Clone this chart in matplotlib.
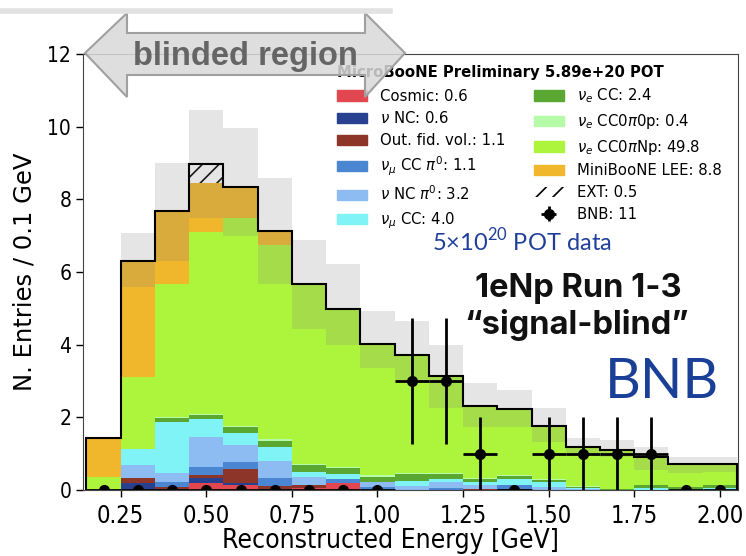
import numpy as np
import matplotlib.pyplot as plt
from matplotlib.patches import Polygon, Patch
from matplotlib.lines import Line2D

# reconstructed energy bin centres [GeV], bins are 0.1 GeV wide
energy = [0.2, 0.3, 0.4, 0.5, 0.6, 0.7, 0.8, 0.9, 1.0, 1.1,
          1.2, 1.3, 1.4, 1.5, 1.6, 1.7, 1.8, 1.9, 2.0]

# stacked MC prediction, bottom -> top
cosmic     = [0, 0, 0, 0.18, 0.15, 0, 0.05, 0.18, 0, 0, 0, 0, 0, 0, 0, 0, 0, 0, 0]
nu_nc      = [0, 0.18, 0.04, 0.16, 0.05, 0.04, 0, 0, 0, 0, 0, 0, 0.03, 0, 0, 0, 0, 0, 0]
oofv       = [0, 0.16, 0.03, 0.07, 0.39, 0.08, 0.10, 0, 0, 0, 0, 0.04, 0, 0, 0, 0, 0, 0, 0]
numu_ccpi0 = [0, 0, 0.14, 0.23, 0.17, 0.20, 0, 0.11, 0.09, 0, 0.05, 0, 0.12, 0, 0, 0, 0, 0, 0]
nu_ncpi0   = [0, 0.35, 0.25, 0.83, 0.48, 0.48, 0.21, 0, 0.14, 0.11, 0.18, 0.09, 0, 0.09, 0.03, 0, 0, 0, 0]
numu_cc    = [0, 0.43, 1.42, 0.49, 0.33, 0.38, 0.13, 0.14, 0, 0.15, 0.07, 0.09, 0.15, 0.12, 0.02, 0, 0.05, 0.03, 0.05]
nue_cc     = [0, 0, 0.09, 0.11, 0.17, 0.18, 0.19, 0.18, 0.14, 0.17, 0.13, 0.08, 0.09, 0.07, 0.03, 0.02, 0.09, 0.05, 0.10]
nue_0p     = [0, 0, 0.03, 0.03, 0.03, 0.03, 0.03, 0.03, 0.03, 0.03, 0.03, 0.03, 0.02, 0.02, 0.02, 0.01, 0.01, 0, 0]
nue_np     = [0.36, 1.98, 3.68, 5.01, 5.73, 5.35, 4.95, 4.35, 3.63, 3.26, 2.68, 1.97, 1.81, 1.46, 1.07, 1.07, 0.77, 0.63, 0.56]
lee        = [1.07, 3.20, 1.99, 1.35, 0.85, 0.39, 0, 0, 0, 0, 0, 0, 0, 0, 0, 0, 0, 0, 0]
ext        = [0, 0, 0, 0.51, 0, 0, 0, 0, 0, 0, 0, 0, 0, 0, 0, 0, 0, 0, 0]

# uncertainty band (lower / upper edge)
band_lo = [1.43, 5.60, 6.30, 7.50, 7.00, 5.66, 4.42, 3.98, 3.36, 3.00,
           2.25, 1.74, 1.74, 1.33, 0.95, 0.90, 0.55, 0.46, 0.50]
band_hi = [1.43, 7.06, 8.99, 10.45, 9.96, 8.58, 6.88, 6.22, 4.93, 4.65,
           4.00, 2.94, 2.75, 2.25, 1.44, 1.38, 1.19, 0.92, 0.92]

# BNB data (signal-blind: only high-energy sideband unblinded)
bnb = [0, 0, 0, 0, 0, 0, 0, 0, 0, 3, 3, 1, 0, 1, 1, 1, 1, 0, 0]

labels = ["Cosmic: 0.6", r"$\nu$ NC: 0.6", "Out. fid. vol.: 1.1",
          r"$\nu_\mu$ CC $\pi^0$: 1.1", r"$\nu$ NC $\pi^0$: 3.2", r"$\nu_\mu$ CC: 4.0",
          r"$\nu_e$ CC: 2.4", r"$\nu_e$ CC0$\pi$0p: 0.4", r"$\nu_e$ CC0$\pi$Np: 49.8",
          "MiniBooNE LEE: 8.8"]
colors = ["#e2474f", "#27408f", "#8c3528", "#4a86d2", "#8dbcf3", "#80f3f7",
          "#5aa832", "#b5fba8", "#adf53c", "#f0b62c"]
stack = [cosmic, nu_nc, oofv, numu_ccpi0, nu_ncpi0, numu_cc, nue_cc, nue_0p, nue_np, lee]

x = np.array(energy)
w = 0.1

W, H = 746, 556
fig = plt.figure(figsize=(W / 100, H / 100), dpi=100)
ax = fig.add_axes([83 / W, 66 / H, 655 / W, 436 / H])

bottom = np.zeros(len(x))
handles = []
for vals, lab, col in zip(stack, labels, colors):
    ax.bar(x, vals, w, bottom=bottom, color=col, linewidth=0)
    bottom += np.array(vals)
    handles.append(Patch(color=col, label=lab))

plt.rcParams['hatch.linewidth'] = 1.2
ax.bar(x, ext, w, bottom=bottom, facecolor="white", edgecolor="black",
       hatch="//", linewidth=0)
bottom += np.array(ext)
handles.append(Patch(facecolor="white", edgecolor="black", hatch="//",
                     linewidth=0, label="EXT: 0.5"))

# uncertainty band over the stack
ax.bar(x, np.array(band_hi) - np.array(band_lo), w, bottom=band_lo,
       color="grey", alpha=0.2, linewidth=0)

edges = np.append(x - w / 2, x[-1] + w / 2)
ax.stairs(bottom, edges, baseline=0, color="black", linewidth=1.5)

data = np.array(bnb)
eb = ax.errorbar(x, data, xerr=w / 2, yerr=np.sqrt(data), fmt="o", color="black",
                 markersize=7, elinewidth=2, capsize=0, label="BNB: 11")
handles.append(eb)

ax.set_xlim(0.14, 2.053)
ax.set_ylim(0, 12)
ax.set_xticks([0.25, 0.5, 0.75, 1.0, 1.25, 1.5, 1.75, 2.0])
ax.set_yticks([0, 2, 4, 6, 8, 10, 12])
ax.tick_params(axis="y", labelsize=15, length=5, width=1)
ax.tick_params(axis="x", labelsize=17, length=5, width=1, pad=5)
for t in ax.get_xticklabels() + ax.get_yticklabels():
    t.set_fontstretch("condensed")
for s in ax.spines.values():
    s.set_color("#444444")
ax.set_xlabel("Reconstructed Energy [GeV]", fontsize=19, fontstretch="condensed")
ax.xaxis.set_label_coords(0.469, -0.088)
ax.xaxis.label.set_va("top")
ax.set_ylabel("N. Entries / 0.1 GeV", fontsize=17.5, labelpad=8)

leg = ax.legend(handles=handles, ncol=2, frameon=False, fontsize=10.7,
                title="MicroBooNE Preliminary 5.89e+20 POT",
                title_fontproperties={"weight": "bold", "size": 10.7},
                loc="upper left", bbox_to_anchor=(0.388, 0.975),
                borderaxespad=0, borderpad=0, handlelength=2.0, handleheight=0.7,
                handletextpad=0.9, columnspacing=1.9, labelspacing=0.45,
                alignment="left")


def fx(px):
    return px / W


def fy(py):
    return 1 - py / H


# slide decoration: top rule and "blinded region" arrow
fig.add_artist(Line2D([fx(0), fx(390)], [fy(11), fy(11)], color="#e2e2e2", linewidth=4))
arrow = [(85, 53), (127, 13), (127, 33), (365, 33), (365, 13), (405, 53),
         (365, 97), (365, 75), (127, 75), (127, 97)]
fig.add_artist(Polygon([(fx(a), fy(b)) for a, b in arrow], closed=True,
                       facecolor=(0.85, 0.85, 0.85, 0.85), edgecolor="#a0a0a0",
                       linewidth=1.5, transform=fig.transFigure))
fig.text(fx(245), fy(56), "blinded region", fontsize=23.5, fontweight="bold",
         family="Liberation Sans", color="#656565", ha="center", va="center")

plt.rcParams['mathtext.rm'] = "Lato"
fig.text(fx(432), fy(241), r"5×10$^{\mathrm{20}}$ POT data", fontsize=17, family="Lato",
         color="#1f3f9a", ha="left", va="center", math_fontfamily="custom")
fig.text(fx(578), fy(288), "1eNp Run 1-3", fontsize=23.5, fontweight="bold",
         family="Inter", color="#111111", ha="center", va="center")
fig.text(fx(577), fy(325), "\u201csignal-blind\u201d", fontsize=23.5, fontweight="bold",
         family="Inter", color="#111111", ha="center", va="center")
fig.text(fx(662), fy(382), "BNB", fontsize=40, family="Lato",
         color="#1a3f96", ha="center", va="center")

fig.savefig("out.png", dpi=100)
